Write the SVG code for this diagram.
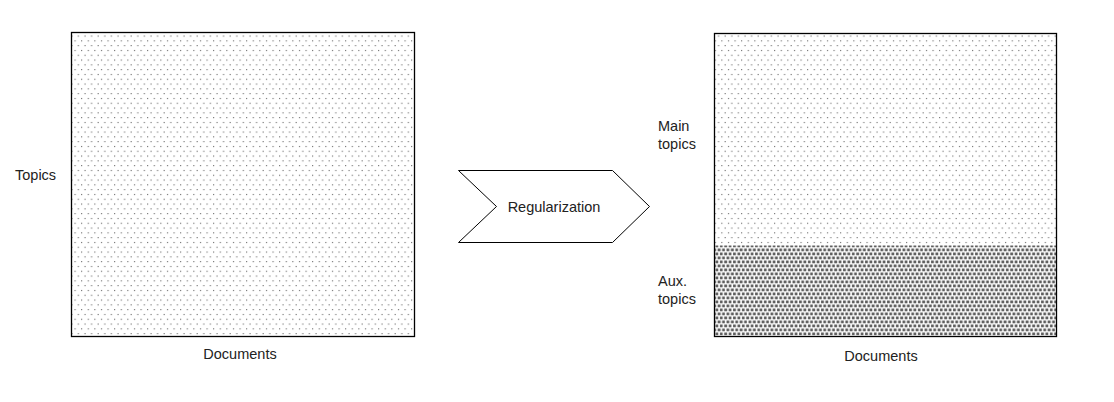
<svg xmlns="http://www.w3.org/2000/svg" width="1114" height="402" viewBox="0 0 1114 402">
<defs>
<pattern id="sparse" x="0" y="0" width="6.6" height="9.6" patternUnits="userSpaceOnUse">
<rect x="2" y="2" width="1" height="1" fill="#444"/>
<rect x="5.3" y="6.8" width="1" height="1" fill="#444"/>
</pattern>
<pattern id="dense" x="0" y="0" width="4.4" height="8" patternUnits="userSpaceOnUse">
<rect x="0.5" y="0.5" width="2.8" height="2.8" fill="#5e5e5e"/>
<rect x="2.7" y="4.5" width="2.8" height="2.8" fill="#5e5e5e"/>
<rect x="-1.7" y="4.5" width="2.8" height="2.8" fill="#5e5e5e"/>
</pattern>
<style>
.lbl{font-family:"Liberation Sans",Arial,sans-serif;font-size:14.5px;fill:#222}
.box{stroke:#000;stroke-width:1.3}
</style>
</defs>
<rect width="1114" height="402" fill="#fff"/>
<g id="left-matrix">
<rect class="box" x="71.5" y="32.5" width="343" height="304" fill="url(#sparse)"/>
<text class="lbl" x="15" y="180">Topics</text>
<text class="lbl" x="240" y="359" text-anchor="middle">Documents</text>
</g>
<g id="regularization">
<polygon points="458.5,170.5 612.5,170.5 649.5,206.5 612.5,242.5 458.5,242.5 496.5,206.5" fill="#fff" stroke="#000" stroke-width="1"/>
<text class="lbl" x="554" y="212" text-anchor="middle">Regularization</text>
</g>
<g id="right-matrix">
<rect x="714.5" y="33.5" width="342" height="212" fill="url(#sparse)"/>
<rect x="714.5" y="245.5" width="342" height="90" fill="url(#dense)"/>
<rect class="box" x="714.5" y="33.5" width="342" height="303" fill="none"/>
<text class="lbl" x="658" y="131">Main</text>
<text class="lbl" x="658" y="149">topics</text>
<text class="lbl" x="658" y="286">Aux.</text>
<text class="lbl" x="658" y="304">topics</text>
<text class="lbl" x="881" y="361" text-anchor="middle">Documents</text>
</g>
</svg>
